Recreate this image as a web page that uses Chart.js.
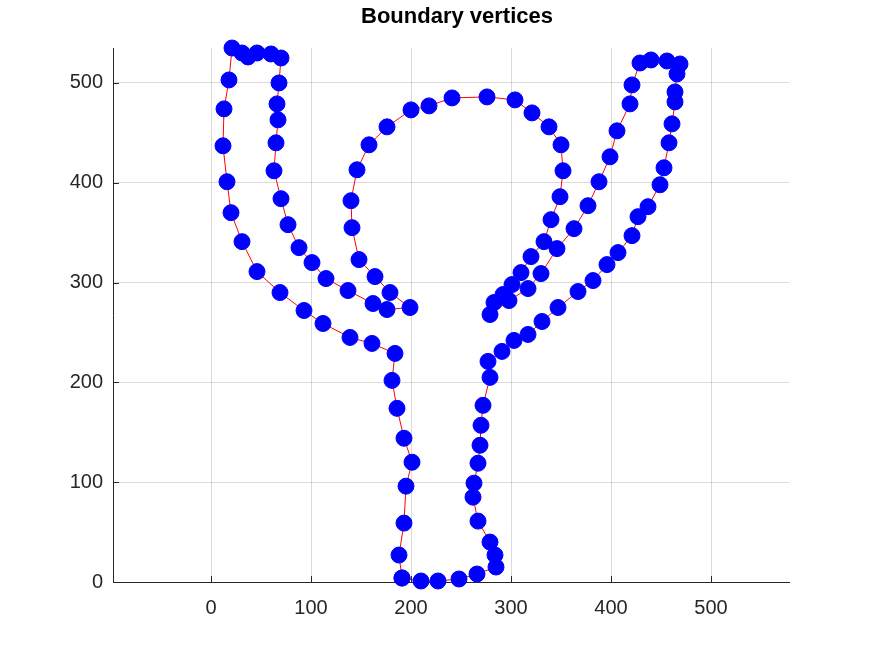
<!DOCTYPE html>
<html>
<head>
<meta charset="utf-8">
<title>Boundary vertices</title>
<script src="https://cdn.jsdelivr.net/npm/chart.js@4.4.1/dist/chart.umd.min.js"></script>
<style>
  html, body { margin: 0; padding: 0; background: #fff; }
  #wrap { width: 872px; height: 654px; }
</style>
</head>
<body>
<div id="wrap"><canvas id="chart" width="872" height="654"></canvas></div>
<script>
// boundary vertices, going round the outline
const vertexX = [191, 188, 193, 195, 201, 193, 186, 181, 184, 161, 139, 112, 93, 69, 46, 31, 20, 16, 12, 13,
  18, 21, 31, 37, 46, 60, 70, 68, 66, 67, 65, 63, 70, 77, 88, 101, 115, 137, 162, 176,
  199, 179, 164, 148, 141, 140, 146, 158, 176, 200, 218, 241, 276, 304, 321, 338, 350, 352, 349, 340,
  333, 320, 310, 301, 292, 283, 279, 298, 317, 330, 346, 363, 377, 388, 399, 406, 419, 421, 429, 440,
  456, 469, 466, 464, 464, 461, 458, 453, 449, 437, 427, 421, 407, 396, 382, 367, 347, 331, 317, 303,
  291, 277, 279, 272, 270, 269, 267, 263, 262, 267, 279, 284, 285, 266, 248, 227, 210];
const vertexY = [4, 27, 59, 96, 120, 144, 174, 202, 229, 239, 245, 259, 272, 290, 311, 341, 370, 401, 437, 474,
  503, 535, 530, 526, 530, 529, 525, 500, 479, 463, 440, 412, 384, 358, 335, 320, 304, 292, 279, 273,
  275, 290, 306, 323, 355, 382, 413, 438, 456, 473, 477, 485, 486, 483, 470, 456, 438, 412, 386, 363,
  341, 326, 310, 298, 288, 280, 268, 282, 294, 309, 334, 354, 377, 401, 426, 452, 479, 498, 520, 523,
  522, 519, 509, 491, 481, 459, 440, 415, 398, 376, 366, 347, 330, 318, 302, 291, 275, 261, 248, 242,
  231, 221, 205, 177, 157, 137, 119, 99, 85, 61, 40, 27, 15, 8, 3, 1, 1];

const xTicks = [0, 100, 200, 300, 400, 500];
const yTicks = [0, 100, 200, 300, 400, 500];

// close the outline
const points = vertexX.map((x, i) => ({ x: x, y: vertexY[i] }));
points.push(points[0]);

const axisColor = "#262626";
const fontFamily = "'Liberation Sans', Arial, sans-serif";

// octave-ish inward tick marks + title
const extras = {
  id: "extras",
  afterDraw(chart) {
    const ctx = chart.ctx;
    const a = chart.chartArea;
    const xs = chart.scales.x;
    const ys = chart.scales.y;
    ctx.save();
    ctx.strokeStyle = axisColor;
    ctx.lineWidth = 1;
    ctx.beginPath();
    xTicks.forEach(v => {
      const px = Math.round(xs.getPixelForValue(v)) + 0.5;
      ctx.moveTo(px, a.bottom);
      ctx.lineTo(px, a.bottom - 6);
    });
    yTicks.forEach(v => {
      const py = Math.round(ys.getPixelForValue(v)) + 0.5;
      ctx.moveTo(a.left, py);
      ctx.lineTo(a.left + 6, py);
    });
    ctx.stroke();

    ctx.fillStyle = "#000";
    ctx.font = "bold 22px " + fontFamily;
    ctx.textAlign = "center";
    ctx.textBaseline = "alphabetic";
    ctx.fillText("Boundary vertices", 457, 23);
    ctx.restore();
  }
};

const data = {
  datasets: [
    {
      label: "Boundary vertices",
      data: points,
      showLine: true,
      borderColor: "rgb(255, 0, 0)",
      borderWidth: 1,
      pointRadius: 8,
      pointHoverRadius: 8,
      pointBorderWidth: 1,
      pointBackgroundColor: "rgb(0, 0, 255)",
      pointBorderColor: "rgb(0, 0, 255)",
      clip: false
    }
  ]
};

const config = {
  type: "scatter",
  data: data,
  plugins: [extras],
  options: {
    responsive: false,
    animation: false,
    events: [],
    layout: { padding: { top: 48, right: 83, left: 0, bottom: 0 } },
    plugins: {
      legend: { display: false },
      title: { display: false },
      tooltip: { enabled: false }
    },
    scales: {
      x: {
        type: "linear",
        min: -98,
        max: 578,
        afterBuildTicks: s => { s.ticks = xTicks.map(v => ({ value: v })); },
        afterFit: s => { s.height = 72; },
        grid: { color: "rgba(0,0,0,0.14)", drawTicks: false },
        border: { display: true, color: axisColor, width: 1 },
        ticks: {
          padding: 14,
          color: axisColor,
          font: { family: fontFamily, size: 20 },
          maxRotation: 0
        }
      },
      y: {
        type: "linear",
        min: 0,
        max: 535,
        afterBuildTicks: s => { s.ticks = yTicks.map(v => ({ value: v })); },
        afterFit: s => { s.width = 113; },
        grid: { color: "rgba(0,0,0,0.14)", drawTicks: false },
        border: { display: true, color: axisColor, width: 1 },
        ticks: {
          padding: 10,
          color: axisColor,
          font: { family: fontFamily, size: 20 }
        }
      }
    }
  }
};

const myChart = new Chart(document.getElementById("chart"), config);
</script>
</body>
</html>
